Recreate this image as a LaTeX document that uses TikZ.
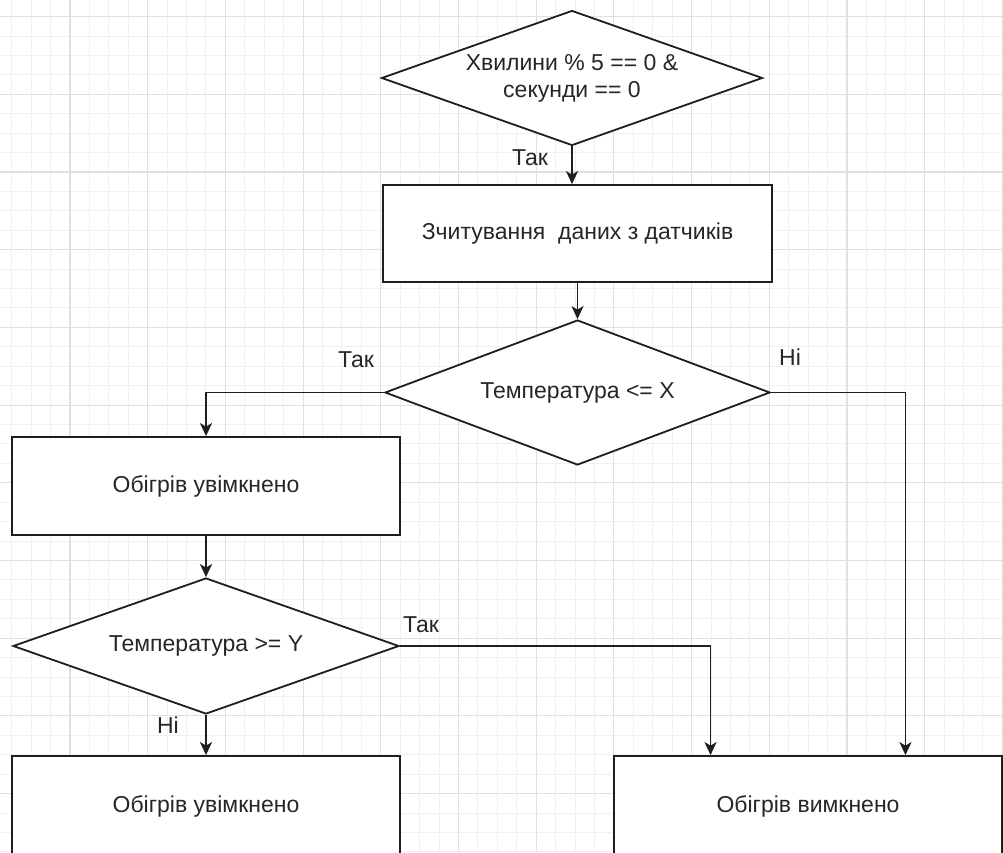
\documentclass[tikz,border=0pt]{standalone}
\usepackage{fontspec}
\setmainfont{Liberation Sans}
\usetikzlibrary{shapes.geometric,arrows.meta,calc}
\definecolor{ink}{HTML}{1E1E1E}
\definecolor{txt}{HTML}{262626}
\definecolor{gridminor}{HTML}{F0F0F0}
\definecolor{gridmajor}{HTML}{E0E0E0}
\tikzset{
  base/.style={draw=ink, line width=1.8pt, fill=white, text=txt, font=\fontsize{23}{27}\selectfont, inner sep=0pt, align=center},
  decision/.style={base, diamond, shape aspect=2.8},
  process/.style={base, rectangle},
  arr/.style={draw=ink, line width=1.6pt, -{Stealth[length=13pt,width=12pt,inset=3.5pt]}},
  lbl/.style={text=txt, font=\fontsize{23}{27}\selectfont, inner sep=0pt}
}
\begin{document}
\begin{tikzpicture}[x=1pt,y=-1pt]
\useasboundingbox (0,0) rectangle (1003,852);
\clip (0,0) rectangle (1003,852);
\fill[white] (0,0) rectangle (1003,852);
% grid
\foreach \i in {0,...,52} {
  \draw[gridminor, line width=1pt] ({11.7+19.425*\i},0) -- ({11.7+19.425*\i},852);
}
\foreach \i in {0,...,44} {
  \draw[gridminor, line width=1pt] (0,{16.6+19.425*\i}) -- (1003,{16.6+19.425*\i});
}
\foreach \i in {0,...,13} {
  \draw[gridmajor, line width=1.1pt] ({-7.7+77.7*\i},0) -- ({-7.7+77.7*\i},852);
}
\foreach \i in {0,...,11} {
  \draw[gridmajor, line width=1.1pt] (0,{16.6+77.7*\i}) -- (1003,{16.6+77.7*\i});
}
% nodes
\node[decision, minimum width=381pt, minimum height=135pt] (d1) at (572,78) {Хвилини \% 5 == 0 \&\\секунди == 0};
\node[process, minimum width=389pt, minimum height=97pt] (b1) at (577.5,233.5) {Зчитування\ \ даних з датчиків};
\node[decision, minimum width=385pt, minimum height=145pt] (d2) at (577.5,392.5) {Температура <= X};
\node[process, minimum width=388pt, minimum height=98pt] (b2) at (206,486) {Обігрів увімкнено};
\node[decision, minimum width=386pt, minimum height=136pt] (d3) at (206,646) {Температура >= Y};
\node[process, minimum width=388pt, minimum height=100pt] (b3) at (206,806) {Обігрів увімкнено};
\node[process, minimum width=388pt, minimum height=100pt] (b4) at (808,806) {Обігрів вимкнено};
\coordinate (b4a) at ($(b4.north west)!0.5!(b4.north)$);
\coordinate (b4b) at ($(b4.north)!0.5!(b4.north east)$);
% connectors
\draw[arr] (d1.south) -- (d1.south |- b1.north);
\draw[arr] (b1.south) -- (b1.south |- d2.north);
\draw[arr] (d2.west) -| (b2.north);
\draw[arr] (d2.east) -| (b4b);
\draw[arr] (b2.south) -- (d3.north);
\draw[arr] (d3.east) -| (b4a);
\draw[arr] (d3.south) -- (b3.north);
% labels
\node[lbl] (l1) at (530,158) {Так};
\node[lbl] (l2) at (356,360) {Так};
\node[lbl] (l3) at (790,357) {Ні};
\node[lbl] (l4) at (421,625) {Так};
\node[lbl] (l5) at (168,725) {Ні};
\end{tikzpicture}
\end{document}
